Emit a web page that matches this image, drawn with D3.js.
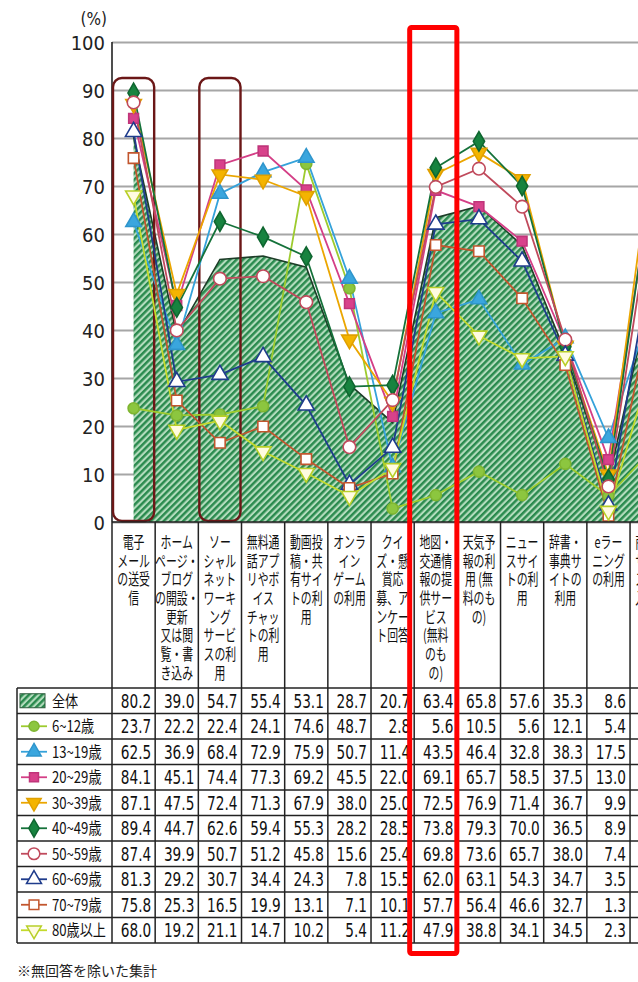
<!DOCTYPE html>
<html><head><meta charset="utf-8">
<script src="https://cdn.jsdelivr.net/npm/d3@7"></script>
<style>
  body { margin: 0; background: #fff; }
  svg { display: block; }
</style>
</head><body>
<script>
// Internet usage purposes by age group (%)
const categories = [
  "電子メールの送受信", "ホームページ・ブログの開設・更新又は閲覧・書き込み",
  "ソーシャルネットワーキングサービスの利用", "無料通話アプリやボイスチャットの利用",
  "動画投稿・共有サイトの利用", "オンラインゲームの利用", "クイズ・懸賞応募、アンケート回答",
  "地図・交通情報の提供サービス(無料のもの)", "天気予報の利用(無料のもの)",
  "ニュースサイトの利用", "辞書・事典サイトの利用", "eラーニングの利用",
  "商品・サービスの購入・取引"
];
const categoryLines = [
  ["電子", "メール", "の送受", "信"],
  ["ホーム", "ページ・", "ブログ", "の開設・", "更新", "又は閲", "覧・書", "き込み"],
  ["ソー", "シャル", "ネット", "ワーキ", "ング", "サービ", "スの利", "用"],
  ["無料通", "話アプ", "リやボ", "イス", "チャッ", "トの利", "用"],
  ["動画投", "稿・共", "有サイ", "トの利", "用"],
  ["オンラ", "イン", "ゲーム", "の利用"],
  ["クイ", "ズ・懸", "賞応", "募、ア", "ンケー", "ト回答"],
  ["地図・", "交通情", "報の提", "供サー", "ビス", "(無料", "のも", "の)"],
  ["天気予", "報の利", "用 (無", "料のも", "の)"],
  ["ニュー", "スサイ", "トの利", "用"],
  ["辞書・", "事典サ", "イトの", "利用"],
  ["eラー", "ニング", "の利用"],
  ["商品・", "サービ", "スの購", "入・取", "引"]
];

const overall = [80.2, 39.0, 54.7, 55.4, 53.1, 28.7, 20.7, 63.4, 65.8, 57.6, 35.3, 8.6, 48.6];
const age6_12 = [23.7, 22.2, 22.4, 24.1, 74.6, 48.7, 2.8, 5.6, 10.5, 5.6, 12.1, 5.4, 15.0];
const age13_19 = [62.5, 36.9, 68.4, 72.9, 75.9, 50.7, 11.4, 43.5, 46.4, 32.8, 38.3, 17.5, 45.0];
const age20_29 = [84.1, 45.1, 74.4, 77.3, 69.2, 45.5, 22.0, 69.1, 65.7, 58.5, 37.5, 13.0, 70.0];
const age30_39 = [87.1, 47.5, 72.4, 71.3, 67.9, 38.0, 25.0, 72.5, 76.9, 71.4, 36.7, 9.9, 77.0];
const age40_49 = [89.4, 44.7, 62.6, 59.4, 55.3, 28.2, 28.5, 73.8, 79.3, 70.0, 36.5, 8.9, 72.0];
const age50_59 = [87.4, 39.9, 50.7, 51.2, 45.8, 15.6, 25.4, 69.8, 73.6, 65.7, 38.0, 7.4, 66.0];
const age60_69 = [81.3, 29.2, 30.7, 34.4, 24.3, 7.8, 15.5, 62.0, 63.1, 54.3, 34.7, 3.5, 55.0];
const age70_79 = [75.8, 25.3, 16.5, 19.9, 13.1, 7.1, 10.1, 57.7, 56.4, 46.6, 32.7, 1.3, 45.0];
const age80 = [68.0, 19.2, 21.1, 14.7, 10.2, 5.4, 11.2, 47.9, 38.8, 34.1, 34.5, 2.3, 33.0];

const overallName = "全体";
const seriesNames = ["6~12歳", "13~19歳", "20~29歳", "30~39歳", "40~49歳",
                     "50~59歳", "60~69歳", "70~79歳", "80歳以上"];
const yTicks = [0, 10, 20, 30, 40, 50, 60, 70, 80, 90, 100];
const highlightedCols = [0, 2];   // rounded boxes
const focusCol = 7;               // red frame
const footnote = "※無回答を除いた集計";

// Series appearance
const styles = [
  { line: "#9dcb2e", fill: "#8cc63f", stroke: "#7fb531", shape: d3.symbolCircle, size: 95, rot: 0 },
  { line: "#35a2da", fill: "#3aa6de", stroke: "#2f95cc", shape: d3.symbolTriangle, size: 105, rot: 0 },
  { line: "#d43f86", fill: "#d8428b", stroke: "#c0357a", shape: d3.symbolSquare, size: 95, rot: 0 },
  { line: "#eba600", fill: "#f4b400", stroke: "#e0a000", shape: d3.symbolTriangle, size: 105, rot: 180 },
  { line: "#15723a", fill: "#17833f", stroke: "#0f6630", shape: d3.symbolDiamond, size: 110, rot: 0 },
  { line: "#c04a5c", fill: "#fff", stroke: "#c04a5c", shape: d3.symbolCircle, size: 125, rot: 0 },
  { line: "#1f3c8c", fill: "#fff", stroke: "#1f3c8c", shape: d3.symbolTriangle, size: 115, rot: 0 },
  { line: "#c2562e", fill: "#fff", stroke: "#c2562e", shape: d3.symbolSquare, size: 110, rot: 0 },
  { line: "#c4da2c", fill: "#fffbe0", stroke: "#b8cf28", shape: d3.symbolTriangle, size: 110, rot: 180 }
];
const seriesValues = [age6_12, age13_19, age20_29, age30_39, age40_49, age50_59, age60_69, age70_79, age80];
const series = seriesNames.map((name, k) => ({ name, values: seriesValues[k], style: styles[k] }));

const W = 638, H = 982;
const plotLeft = 112, colW = 43.17;
const tableTop = 688, rowH = 25.5, tableLeft = 17;
const jp = "'Noto Sans CJK JP', 'Noto Sans', sans-serif";
const narrow = "'Liberation Sans Narrow', 'DejaVu Sans Condensed', 'Liberation Sans', sans-serif";

const svg = d3.select("body").append("svg").attr("width", W).attr("height", H);

const x = d3.scaleBand().domain(d3.range(categories.length))
  .range([plotLeft, plotLeft + categories.length * colW]).padding(0);
const cx = i => x(i) + x.bandwidth() / 2;
const y = d3.scaleLinear().domain([0, 100]).range([522, 42]);

// hatch pattern for the overall area
const defs = svg.append("defs");
const pat = defs.append("pattern").attr("id", "hatch")
  .attr("patternUnits", "userSpaceOnUse").attr("width", 4.6).attr("height", 4.6)
  .attr("patternTransform", "rotate(45)");
pat.append("rect").attr("width", 4.6).attr("height", 4.6).attr("fill", "#b3dcbd");
pat.append("line").attr("x1", 1.2).attr("y1", 0).attr("x2", 1.2).attr("y2", 4.6)
  .attr("stroke", "#2a8a4e").attr("stroke-width", 2.5);

// gridlines + y axis
const yAxis = d3.axisLeft(y).tickValues(yTicks).tickSize(-(W - plotLeft)).tickPadding(6);
const gy = svg.append("g").attr("transform", `translate(${plotLeft},0)`).call(yAxis);
gy.select(".domain").remove();
gy.selectAll(".tick line").attr("stroke", "#a6a6a6").attr("stroke-width", 2);
gy.selectAll(".tick text").attr("font-family", narrow).attr("font-size", 20)
  .attr("fill", "#222").attr("dy", "0.36em").attr("x", -7);
svg.append("text").attr("x", 107).attr("y", 25).attr("text-anchor", "end")
  .attr("font-family", narrow).attr("font-size", 17).attr("fill", "#222").text("(%)");

// overall area
const area = d3.area().x((d, i) => cx(i)).y0(y(0)).y1(d => y(d));
svg.append("path").datum(overall).attr("d", area).attr("fill", "url(#hatch)");
svg.append("path").datum(overall)
  .attr("d", d3.line().x((d, i) => cx(i)).y(d => y(d)))
  .attr("fill", "none").attr("stroke", "#1d3d28").attr("stroke-width", 1.6);

// y axis line
svg.append("line").attr("x1", plotLeft).attr("x2", plotLeft).attr("y1", y(100)).attr("y2", y(0))
  .attr("stroke", "#222").attr("stroke-width", 1.6);

// rounded highlight boxes
highlightedCols.forEach(i => {
  svg.append("rect").attr("x", x(i) + 1).attr("y", y(92.5))
    .attr("width", x.bandwidth() - 2).attr("height", y(0) - y(92.5) - 1)
    .attr("rx", 9).attr("fill", "none").attr("stroke", "#6b1717").attr("stroke-width", 2.4);
});

// age series
series.forEach(s => {
  svg.append("path").datum(s.values)
    .attr("d", d3.line().x((d, i) => cx(i)).y(d => y(d)))
    .attr("fill", "none").attr("stroke", s.style.line).attr("stroke-width", 1.8);
});
series.forEach(s => {
  const sym = d3.symbol().type(s.style.shape).size(s.style.size);
  svg.append("g").selectAll("path").data(s.values).join("path")
    .attr("d", sym)
    .attr("transform", (d, i) => `translate(${cx(i)},${y(d)}) rotate(${s.style.rot})`)
    .attr("fill", s.style.fill).attr("stroke", s.style.stroke).attr("stroke-width", 1.6);
});

// category header + table grid
const tableBottom = tableTop + rowH * (series.length + 1);
const grid = svg.append("g").attr("stroke", "#222").attr("stroke-width", 1.5);
grid.append("line").attr("x1", plotLeft).attr("x2", W).attr("y1", y(0)).attr("y2", y(0));
d3.range(categories.length + 1).forEach(i => {
  const xv = plotLeft + i * colW;
  grid.append("line").attr("x1", xv).attr("x2", xv).attr("y1", y(0)).attr("y2", tableBottom);
});
grid.append("line").attr("x1", tableLeft).attr("x2", tableLeft).attr("y1", tableTop).attr("y2", tableBottom);
d3.range(series.length + 2).forEach(r => {
  const yv = tableTop + r * rowH;
  grid.append("line").attr("x1", tableLeft).attr("x2", W).attr("y1", yv).attr("y2", yv);
});

// category labels, one wrapped text block per column
categoryLines.forEach((lines, i) => {
  const t = svg.append("text")
    .attr("transform", `translate(${cx(i)},548) scale(0.68,1)`)
    .attr("text-anchor", "middle").attr("font-family", jp).attr("font-size", 16)
    .attr("fill", "#111");
  lines.forEach((s, j) => {
    t.append("tspan").attr("x", 0).attr("y", j * 18.7).text(s);
  });
});

// table rows
const rows = [{ name: overallName, values: overall, style: null }].concat(series);
const fmt = d3.format(".1f");
rows.forEach((r, k) => {
  const cy = tableTop + k * rowH + rowH / 2;
  if (!r.style) {
    svg.append("rect").attr("x", 20).attr("y", cy - 7).attr("width", 25).attr("height", 14)
      .attr("fill", "url(#hatch)").attr("stroke", "#2a5a3a").attr("stroke-width", 1);
  } else {
    svg.append("line").attr("x1", 21).attr("x2", 47).attr("y1", cy).attr("y2", cy)
      .attr("stroke", r.style.line).attr("stroke-width", 1.8);
    svg.append("path").attr("d", d3.symbol().type(r.style.shape).size(r.style.size * 0.85)())
      .attr("transform", `translate(34,${cy}) rotate(${r.style.rot})`)
      .attr("fill", r.style.fill).attr("stroke", r.style.stroke).attr("stroke-width", 1.5);
  }
  svg.append("text").attr("transform", `translate(52,${cy + 6}) scale(0.82,1)`)
    .attr("font-family", jp).attr("font-size", 16).attr("fill", "#111").text(r.name);
  r.values.forEach((v, i) => {
    svg.append("text").attr("transform", `translate(${x(i) + colW - 4},${cy + 7}) scale(0.8,1)`)
      .attr("text-anchor", "end").attr("font-family", narrow).attr("font-size", 19)
      .attr("fill", "#111").text(fmt(v));
  });
});

svg.append("text").attr("x", tableLeft).attr("y", 976).attr("font-family", jp)
  .attr("font-size", 14).attr("fill", "#222").text(footnote);

// red frame around the focused column
svg.append("rect").attr("x", x(focusCol) - 4.5).attr("y", 27.5)
  .attr("width", colW + 4).attr("height", 926).attr("rx", 2)
  .attr("fill", "none").attr("stroke", "#ff0000").attr("stroke-width", 5);
</script>
</body></html>
